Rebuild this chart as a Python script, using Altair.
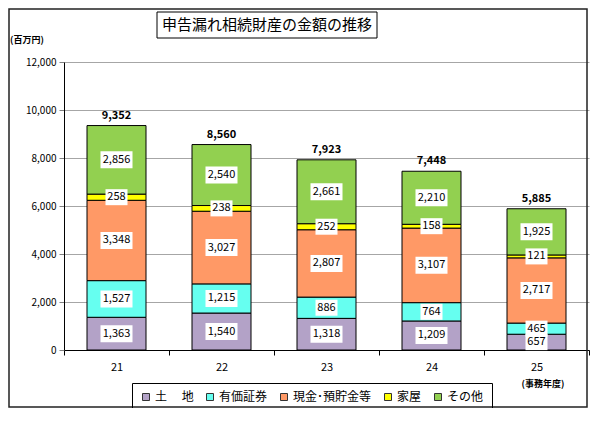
import altair as alt
import pandas as pd

years = ["21", "22", "23", "24", "25"]
categories = ["土\u3000 地", "有価証券", "現金･預貯金等", "家屋", "その他"]
land = [1363, 1540, 1318, 1209, 657]
securities = [1527, 1215, 886, 764, 465]
cash = [3348, 3027, 2807, 3107, 2717]
house = [258, 238, 252, 158, 121]
other = [2856, 2540, 2661, 2210, 1925]
totals = [9352, 8560, 7923, 7448, 5885]
y_ticks = [0, 2000, 4000, 6000, 8000, 10000, 12000]
colors = ["#B3A2C7", "#66FFF0", "#FF9966", "#FFFF00", "#92D050"]
title_text = ["申告漏れ相続財産の金額の推移"]
unit_text = ["(百万円)"]
xunit_text = ["(事務年度)"]

FONT = "Noto Sans CJK JP"
series = [land, securities, cash, house, other]

rows = []
for i, yr in enumerate(years):
    base = 0
    for k, (cat, vals) in enumerate(zip(categories, series)):
        v = vals[i]
        lab = f"{v:,}"
        rows.append(dict(year=yr, cat=cat, order=k, y0=base, y1=base + v,
                         mid=base + v / 2, label=lab,
                         w="long" if len(lab) > 3 else "short"))
        base += v
df = pd.DataFrame(rows)
tot = pd.DataFrame(dict(year=years, total=totals, label=[f"{t:,}" for t in totals]))

xscale = alt.Scale(domain=years, paddingInner=0, paddingOuter=0)
yscale = alt.Scale(domain=[0, 12000], nice=False)

x_enc = alt.X("year:N", scale=xscale, title=None,
              axis=alt.Axis(labelAngle=0, tickBand="extent", tickSize=5,
                            tickColor="black", domainColor="black",
                            labelFontSize=11, labelFont=FONT, labelColor="black",
                            labelPadding=6, grid=False))

bars = alt.Chart(df).mark_bar(size=59, stroke="black", strokeWidth=1).encode(
    x=x_enc,
    y=alt.Y("y0:Q", scale=yscale, title=None,
            axis=alt.Axis(values=y_ticks, format=",.0f", grid=True, gridColor="#A6A6A6",
                          domainColor="black", tickColor="#808080", tickSize=5,
                          labelFontSize=10, labelFont=FONT, labelColor="black",
                          labelPadding=3)),
    y2="y1:Q",
    fill=alt.Fill("cat:N", scale=alt.Scale(domain=categories, range=colors),
                  legend=alt.Legend(title=None, orient="none", legendX=68, legendY=321,
                                    direction="horizontal", strokeColor="black",
                                    padding=8, symbolType="square", symbolSize=49,
                                    symbolStrokeColor="#333333", symbolStrokeWidth=1,
                                    labelFontSize=12, labelFont=FONT, labelColor="black",
                                    columnPadding=10, labelOffset=3)),
    order=alt.Order("order:Q"),
)

path_long = "M-3.2,-1.7H3.2V1.7H-3.2Z"
path_short = "M-2.2,-1.6H2.2V1.6H-2.2Z"
boxes = alt.Chart(df).mark_point(filled=True, color="white", opacity=1, size=100,
                                 strokeWidth=0).encode(
    x=alt.X("year:N", scale=xscale),
    y=alt.Y("mid:Q", scale=yscale),
    shape=alt.Shape("w:N", scale=alt.Scale(domain=["long", "short"],
                                           range=[path_long, path_short]), legend=None),
)

labels = alt.Chart(df).mark_text(fontSize=11, font=FONT, color="black",
                                 baseline="middle").encode(
    x=alt.X("year:N", scale=xscale),
    y=alt.Y("mid:Q", scale=yscale),
    text="label:N",
)

tot_labels = alt.Chart(tot).mark_text(fontSize=11, font=FONT, color="black",
                                      fontWeight="bold", baseline="bottom", dy=-5).encode(
    x=alt.X("year:N", scale=xscale),
    y=alt.Y("total:Q", scale=yscale),
    text="label:N",
)

tdf = pd.DataFrame({"t": title_text})
title_box = alt.Chart(tdf).mark_rect(fill="white", stroke="black", strokeWidth=1).encode(
    x=alt.value(93), x2=alt.value(313), y=alt.value(-50), y2=alt.value(-24))
title = alt.Chart(tdf).mark_text(fontSize=15, font=FONT, color="black",
                                 baseline="middle", align="center").encode(
    x=alt.value(203), y=alt.value(-37), text="t:N")

unit = alt.Chart(pd.DataFrame({"t": unit_text})).mark_text(
    fontSize=9, font=FONT, fontWeight="bold", color="black", align="left",
    baseline="middle").encode(x=alt.value(-54), y=alt.value(-22), text="t:N")
xunit = alt.Chart(pd.DataFrame({"t": xunit_text})).mark_text(
    fontSize=9, font=FONT, fontWeight="bold", color="black", align="center",
    baseline="middle").encode(x=alt.value(479), y=alt.value(322), text="t:N")

frame = alt.Chart(tdf).mark_rect(fill=None, stroke="#222222", strokeWidth=1.5).encode(
    x=alt.value(-55), x2=alt.value(523), y=alt.value(-53), y2=alt.value(345))

chart = alt.layer(frame, bars, boxes, labels, tot_labels, title_box, title, unit, xunit).properties(
    width=525, height=288,
    autosize=alt.AutoSizeParams(type="none"),
    padding={"left": 56, "top": 54, "right": 2, "bottom": 58},
).configure_view(stroke=None).resolve_scale(shape="independent")

chart.save("out.html", embed_options={"renderer": "svg", "actions": False})
